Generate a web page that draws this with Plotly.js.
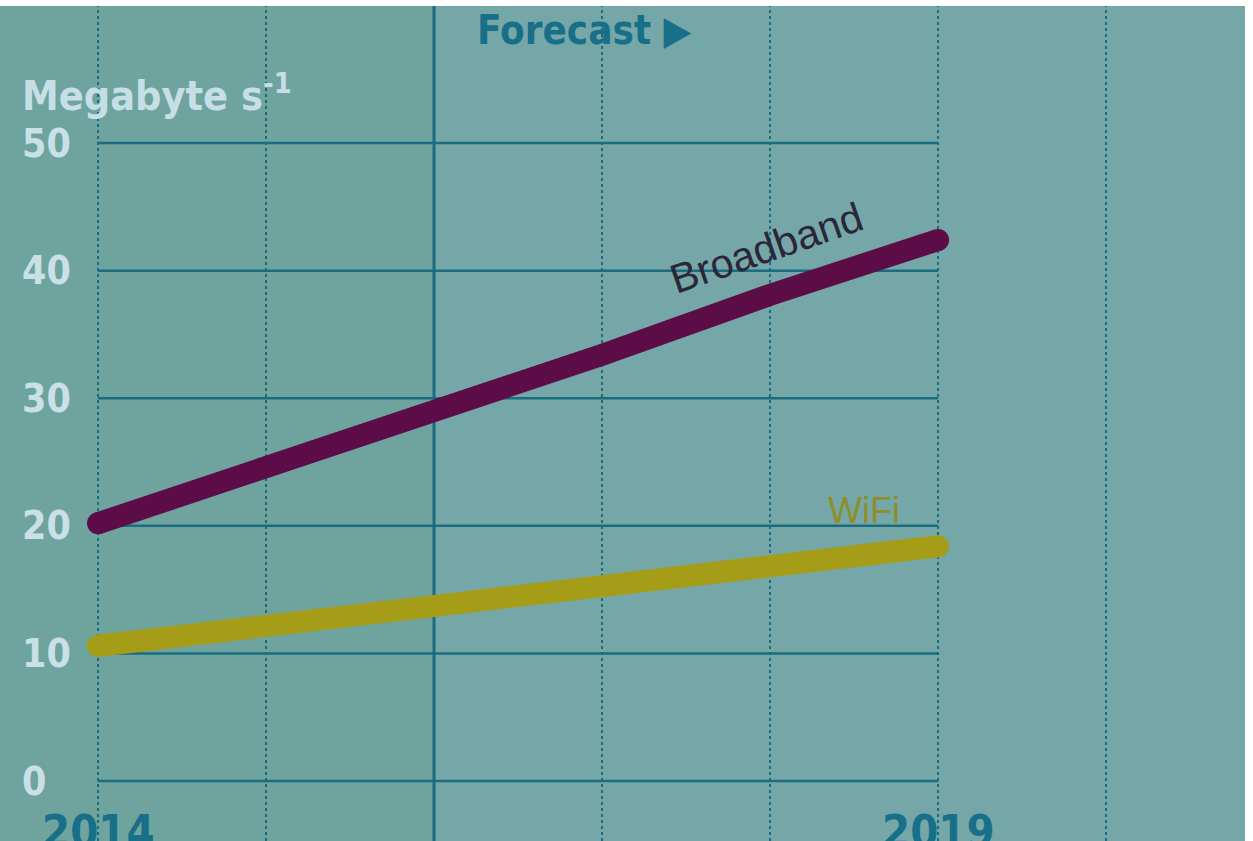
<!DOCTYPE html>
<html>
<head>
<meta charset="utf-8">
<script src="https://cdn.plot.ly/plotly-3.0.1.min.js"></script>
<style>html,body{margin:0;padding:0;background:#fff;}#chart{width:1253px;height:841px;}</style>
</head>
<body>
<div id="chart"></div>
<script>
const years = [2014, 2015, 2016, 2017, 2018, 2019];
const broadband = [20.2, 24.5, 28.9, 33.4, 38.1, 42.4];
const wifi = [10.6, 12.2, 13.9, 15.4, 16.9, 18.4];
const yTicks = [0, 10, 20, 30, 40, 50];
const xTickLabels = [2014, 2019];
const dottedYears = [2014, 2015, 2017, 2018, 2019, 2020];
const forecastStart = 2016;

const grid = '#1a6c80';
const labelFont = '"DejaVu Sans Condensed", "Liberation Sans Narrow", "Liberation Sans", sans-serif';
const xRange = [2013.4167, 2020.827];
const yRange = [-4.70, 60.74];

const ends = [years[0], years[years.length - 1]];
const traces = [
  {x: years, y: broadband, mode: 'lines', line: {color: '#5c0c46', width: 22}, hoverinfo: 'skip', showlegend: false},
  {x: ends, y: [broadband[0], broadband[broadband.length - 1]], mode: 'markers', marker: {color: '#5c0c46', size: 22, opacity: 1, line: {width: 0}}, hoverinfo: 'skip', showlegend: false},
  {x: years, y: wifi, mode: 'lines', line: {color: '#a59c17', width: 22}, hoverinfo: 'skip', showlegend: false},
  {x: ends, y: [wifi[0], wifi[wifi.length - 1]], mode: 'markers', marker: {color: '#a59c17', size: 22, opacity: 1, line: {width: 0}}, hoverinfo: 'skip', showlegend: false}
];

const shapes = [
  {type: 'rect', xref: 'x', yref: 'paper', x0: xRange[0], x1: forecastStart, y0: 0, y1: 1, fillcolor: '#6ea49d', line: {width: 0}, layer: 'below'}
];
yTicks.forEach(v => shapes.push({type: 'line', xref: 'x', yref: 'y', x0: years[0], x1: years[years.length - 1], y0: v, y1: v, line: {color: grid, width: 2.5}, layer: 'below'}));
dottedYears.forEach(v => shapes.push({type: 'line', xref: 'x', yref: 'paper', x0: v, x1: v, y0: 0, y1: 1, line: {color: grid, width: 2, dash: 'dot'}, layer: 'below'}));
shapes.push({type: 'line', xref: 'x', yref: 'paper', x0: forecastStart, x1: forecastStart, y0: 0, y1: 1, line: {color: grid, width: 3}, layer: 'below'});

const annotations = [];
yTicks.forEach(v => annotations.push({xref: 'paper', yref: 'y', x: 0.016, y: v, text: String(v), showarrow: false, xanchor: 'left', yanchor: 'middle',
  font: {family: labelFont, size: 39, color: '#c9e1e6', weight: 'bold'}}));
xTickLabels.forEach(v => annotations.push({xref: 'x', yref: 'paper', x: v, y: 1 - 797 / 835, text: String(v), showarrow: false, xanchor: 'center', yanchor: 'top',
  font: {family: labelFont, size: 45, color: '#176f88', weight: 'bold'}}));
annotations.push({xref: 'paper', yref: 'paper', x: 0.016, y: 1 - 87 / 835, text: 'Megabyte s<sup>-1</sup>', showarrow: false, xanchor: 'left', yanchor: 'middle',
  font: {family: labelFont, size: 41, color: '#c6dee6', weight: 'bold'}});
annotations.push({xref: 'paper', yref: 'paper', x: 475 / 1245, y: 1 - 24 / 835, text: 'Forecast \u25B6', showarrow: false, xanchor: 'left', yanchor: 'middle',
  font: {family: labelFont, size: 40, color: '#176f88', weight: 'bold'}});
annotations.push({xref: 'x', yref: 'y', x: 2017.98, y: 41.8, text: 'Broadband', showarrow: false, textangle: -19, xanchor: 'center', yanchor: 'middle',
  font: {family: '"Liberation Sans", Arial, sans-serif', size: 41, color: '#2b2638'}});
annotations.push({xref: 'x', yref: 'y', x: 2018.56, y: 21.2, text: 'WiFi', showarrow: false, xanchor: 'center', yanchor: 'middle',
  font: {family: '"Liberation Sans", Arial, sans-serif', size: 36, color: '#8e8f2c'}});

const layout = {
  width: 1253, height: 841,
  margin: {l: 0, r: 8, t: 6, b: 0, pad: 0},
  paper_bgcolor: '#ffffff', plot_bgcolor: '#76a7a8',
  xaxis: {range: xRange, showgrid: false, zeroline: false, showticklabels: false, ticks: '', showline: false, fixedrange: true},
  yaxis: {range: yRange, showgrid: false, zeroline: false, showticklabels: false, ticks: '', showline: false, fixedrange: true},
  shapes: shapes, annotations: annotations, showlegend: false
};
Plotly.newPlot('chart', traces, layout, {staticPlot: true, displayModeBar: false});
</script>
</body>
</html>
